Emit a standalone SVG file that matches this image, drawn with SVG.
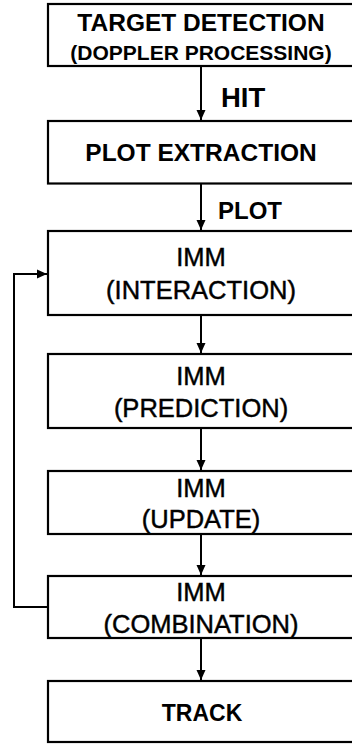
<svg xmlns="http://www.w3.org/2000/svg" width="352" height="744" viewBox="0 0 352 744">
<style>
.box{fill:#fff;stroke:#000;stroke-width:2.2}
.b{font-family:"Liberation Sans",Arial,sans-serif;font-weight:bold;fill:#000;text-anchor:middle}
.r{font-family:"Liberation Sans",Arial,sans-serif;font-weight:normal;fill:#000;stroke:#000;stroke-width:0.45;text-anchor:middle;font-size:25.5px}
.lbl{font-family:"Liberation Sans",Arial,sans-serif;font-weight:bold;fill:#000}
.c{fill:none;stroke:#000;stroke-width:2}
</style>
<defs>
<marker id="ah" markerWidth="10" markerHeight="10" refX="10" refY="5" orient="auto" markerUnits="userSpaceOnUse">
<path d="M0,0.5 L10,5 L0,9.5 Z" fill="#000"/>
</marker>
</defs>
<rect width="352" height="744" fill="#fff"/>
<g id="connectors">
<line class="c" x1="201" y1="67" x2="201" y2="120" marker-end="url(#ah)"/>
<line class="c" x1="201" y1="184" x2="201" y2="230" marker-end="url(#ah)"/>
<line class="c" x1="201" y1="315" x2="201" y2="353" marker-end="url(#ah)"/>
<line class="c" x1="201" y1="428" x2="201" y2="470" marker-end="url(#ah)"/>
<line class="c" x1="201" y1="534" x2="201" y2="575" marker-end="url(#ah)"/>
<line class="c" x1="201" y1="638" x2="201" y2="680" marker-end="url(#ah)"/>
<path class="c" d="M48,607 H14 V274 H47" marker-end="url(#ah)"/>
<text class="lbl" x="221" y="107" font-size="27.5">HIT</text>
<text class="lbl" x="218" y="219" font-size="24">PLOT</text>
</g>
<g id="target-detection">
<rect class="box" x="48" y="4" width="310" height="62"/>
<text class="b" x="201" y="31" font-size="24.5">TARGET DETECTION</text>
<text class="b" x="201" y="59.5" font-size="21">(DOPPLER PROCESSING)</text>
</g>
<g id="plot-extraction">
<rect class="box" x="48" y="121" width="310" height="62.5"/>
<text class="b" x="201" y="161" font-size="24.5">PLOT EXTRACTION</text>
</g>
<g id="imm-interaction">
<rect class="box" x="48" y="231" width="310" height="84"/>
<text class="r" x="201" y="266">IMM</text>
<text class="r" x="201" y="298.5">(INTERACTION)</text>
</g>
<g id="imm-prediction">
<rect class="box" x="48" y="354" width="310" height="74"/>
<text class="r" x="201" y="384.5">IMM</text>
<text class="r" x="201" y="416.5">(PREDICTION)</text>
</g>
<g id="imm-update">
<rect class="box" x="48" y="471" width="310" height="63"/>
<text class="r" x="201" y="497">IMM</text>
<text class="r" x="201" y="528">(UPDATE)</text>
</g>
<g id="imm-combination">
<rect class="box" x="48" y="576" width="310" height="62"/>
<text class="r" x="201" y="601">IMM</text>
<text class="r" x="201" y="632.5">(COMBINATION)</text>
</g>
<g id="track">
<rect class="box" x="48" y="681" width="310" height="61"/>
<text class="b" x="202" y="721" font-size="23">TRACK</text>
</g>
</svg>
